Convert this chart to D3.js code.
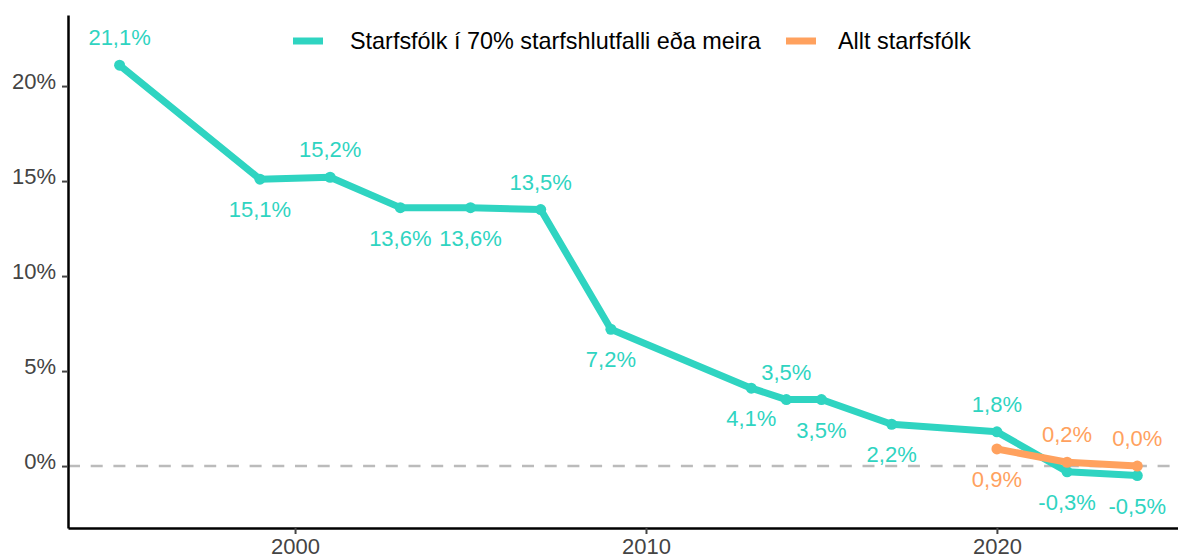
<!DOCTYPE html>
<html lang="en">
<head>
<meta charset="utf-8">
<style>
  body { margin: 0; background: #fff; }
  text { font-family: "Liberation Sans", Arial, sans-serif; }
</style>
<title>Starfsfólk</title>
</head>
<body>
<div id="chart"></div>
<script src="https://d3js.org/d3.v7.min.js"></script>
<script>
const seriesNames = ["Starfsfólk í 70% starfshlutfalli eða meira", "Allt starfsfólk"];
const colors = ["#2fd4c1", "#ffa15e"];

const fullYears = [1995, 1999, 2001, 2003, 2005, 2007, 2009, 2013, 2014, 2015, 2017, 2020, 2022, 2024];
const fullValues = [21.1, 15.1, 15.2, 13.6, 13.6, 13.5, 7.2, 4.1, 3.5, 3.5, 2.2, 1.8, -0.3, -0.5];
const fullLabelPos = ["up", "down", "up", "down", "down", "up", "down", "down", "up", "down", "down", "up", "down", "down"];

const allYears = [2020, 2022, 2024];
const allValues = [0.9, 0.2, 0.0];
const allLabelPos = ["down", "up", "up"];

const yTicks = [0, 5, 10, 15, 20];
const xTicks = [2000, 2010, 2020];

const w = 1178, h = 560;
const m = {left: 68, right: 0, top: 15, bottom: 32};

const svg = d3.select("#chart").append("svg")
  .attr("width", w).attr("height", h);

const x = d3.scaleLinear().domain([1993.53, 2025.16]).range([m.left, w - m.right]);
const y = d3.scaleLinear().domain([-3.26, 23.74]).range([h - m.bottom, m.top]);

// zero line
svg.append("line")
  .attr("x1", m.left).attr("x2", w)
  .attr("y1", y(0)).attr("y2", y(0))
  .attr("stroke", "#bbb").attr("stroke-width", 2.5)
  .attr("stroke-dasharray", "12,10.7");

// axes
const yAxis = svg.append("g")
  .attr("transform", `translate(${m.left},0)`)
  .call(d3.axisLeft(y).tickValues(yTicks).tickFormat(d => d + "%").tickSize(6).tickSizeOuter(0).tickPadding(6));
const xAxis = svg.append("g")
  .attr("transform", `translate(0,${h - m.bottom})`)
  .call(d3.axisBottom(x).tickValues(xTicks).tickFormat(d3.format("d")).tickSize(6).tickSizeOuter(0).tickPadding(4));

[yAxis, xAxis].forEach(g => {
  g.select(".domain").attr("stroke", "#000").attr("stroke-width", 2.5);
  g.selectAll(".tick line").attr("stroke", "#444").attr("stroke-width", 2);
  g.selectAll(".tick text").attr("fill", "#444").style("font-size", "22px")
    .style("font-family", "'Liberation Sans', Arial, sans-serif");
});
yAxis.selectAll(".tick text").attr("dy", "0.09em");

const fmt = v => v.toFixed(1).replace(".", ",") + "%";

function drawSeries(years, values, pos, color) {
  const data = years.map((yr, i) => ({yr, v: values[i], p: pos[i]}));
  const line = d3.line().x(d => x(d.yr)).y(d => y(d.v));
  svg.append("path").datum(data)
    .attr("d", line)
    .attr("fill", "none")
    .attr("stroke", color)
    .attr("stroke-width", 7)
    .attr("stroke-linejoin", "round");
  svg.selectAll(null).data(data).enter().append("circle")
    .attr("cx", d => x(d.yr)).attr("cy", d => y(d.v))
    .attr("r", 5.5).attr("fill", color);
  svg.selectAll(null).data(data).enter().append("text")
    .attr("x", d => x(d.yr))
    .attr("y", d => y(d.v) + (d.p === "up" ? -20 : 38))
    .attr("text-anchor", "middle")
    .attr("fill", color)
    .style("font-size", "22px")
    .text(d => fmt(d.v));
}

drawSeries(fullYears, fullValues, fullLabelPos, colors[0]);
drawSeries(allYears, allValues, allLabelPos, colors[1]);

// legend
const legendX = [293, 786];
const legendTextX = [350, 838];
seriesNames.forEach((name, i) => {
  svg.append("line")
    .attr("x1", legendX[i]).attr("x2", legendX[i] + 30)
    .attr("y1", 41).attr("y2", 41)
    .attr("stroke", colors[i]).attr("stroke-width", 7);
  svg.append("text").attr("x", legendTextX[i]).attr("y", 49)
    .attr("fill", "#000").style("font-size", "23.4px").text(name);
});
</script>
</body>
</html>
